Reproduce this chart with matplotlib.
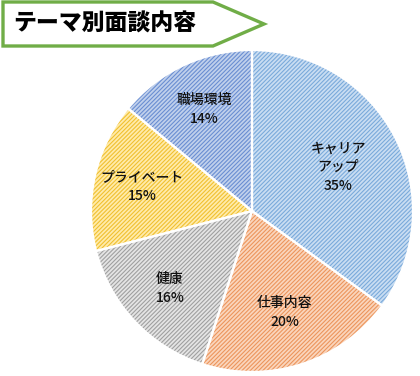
import matplotlib
matplotlib.use("Agg")
import matplotlib.pyplot as plt
from matplotlib.patches import Polygon
import numpy as np

plt.rcParams['font.family'] = ['Noto Sans CJK JP', 'DejaVu Sans']
plt.rcParams['hatch.linewidth'] = 0.8

title = "テーマ別面談内容"
categories = ["キャリア\nアップ", "仕事内容", "健康", "プライベート", "職場環境"]
values = [35, 20, 16, 15, 14]
face_colors = ["#C9DDF2", "#FAD5BC", "#E4E4E4", "#FFEBAA", "#C0D0EC"]
hatch_colors = ["#7AAADB", "#EC955C", "#A0A0A0", "#F0C030", "#6A8ED2"]

W, H = 420, 376
fig = plt.figure(figsize=(W / 100, H / 100), dpi=100)

# pie axes
cx, cy, r = 252, 211, 161
ax = fig.add_axes([(cx - r) / W, 1 - (cy + r) / H, 2 * r / W, 2 * r / H])
ax.set_aspect('equal')
wedges, _ = ax.pie(values, startangle=90, counterclock=False, radius=1.0,
                   colors=face_colors,
                   wedgeprops=dict(linewidth=0))
for w, hc in zip(wedges, hatch_colors):
    w.set_hatch('////////')
    w.set_edgecolor(hc)
ax.pie(values, startangle=90, counterclock=False, radius=1.0,
       colors=['none'] * len(values),
       wedgeprops=dict(linewidth=1.6, edgecolor='white'))

dists = [0.6, 0.66, 0.7, 0.7, 0.7]
for w, lab, v, d in zip(wedges, categories, values, dists):
    ang = np.deg2rad((w.theta1 + w.theta2) / 2)
    ax.text(d * np.cos(ang), d * np.sin(ang), f"{lab}\n{v}%",
            ha='center', va='center', fontsize=10, linespacing=1.45,
            fontweight='medium', color='#111111')
ax.set_xlim(-1.0, 1.0)
ax.set_ylim(-1.0, 1.0)
ax.axis('off')

# title arrow banner
tax = fig.add_axes([0, 0, 1, 1])
tax.set_xlim(0, W)
tax.set_ylim(H, 0)
tax.axis('off')
pts = [(3, 2), (213, 2), (264, 24), (213, 46), (3, 46)]
tax.add_patch(Polygon(pts, closed=True, facecolor='white', edgecolor='#70AD47',
                      linewidth=2.4, joinstyle='miter'))
tax.text(13, 24, title, ha='left', va='center', fontsize=16.5,
         fontweight='black', color='black')

fig.savefig("out.png", dpi=100)
